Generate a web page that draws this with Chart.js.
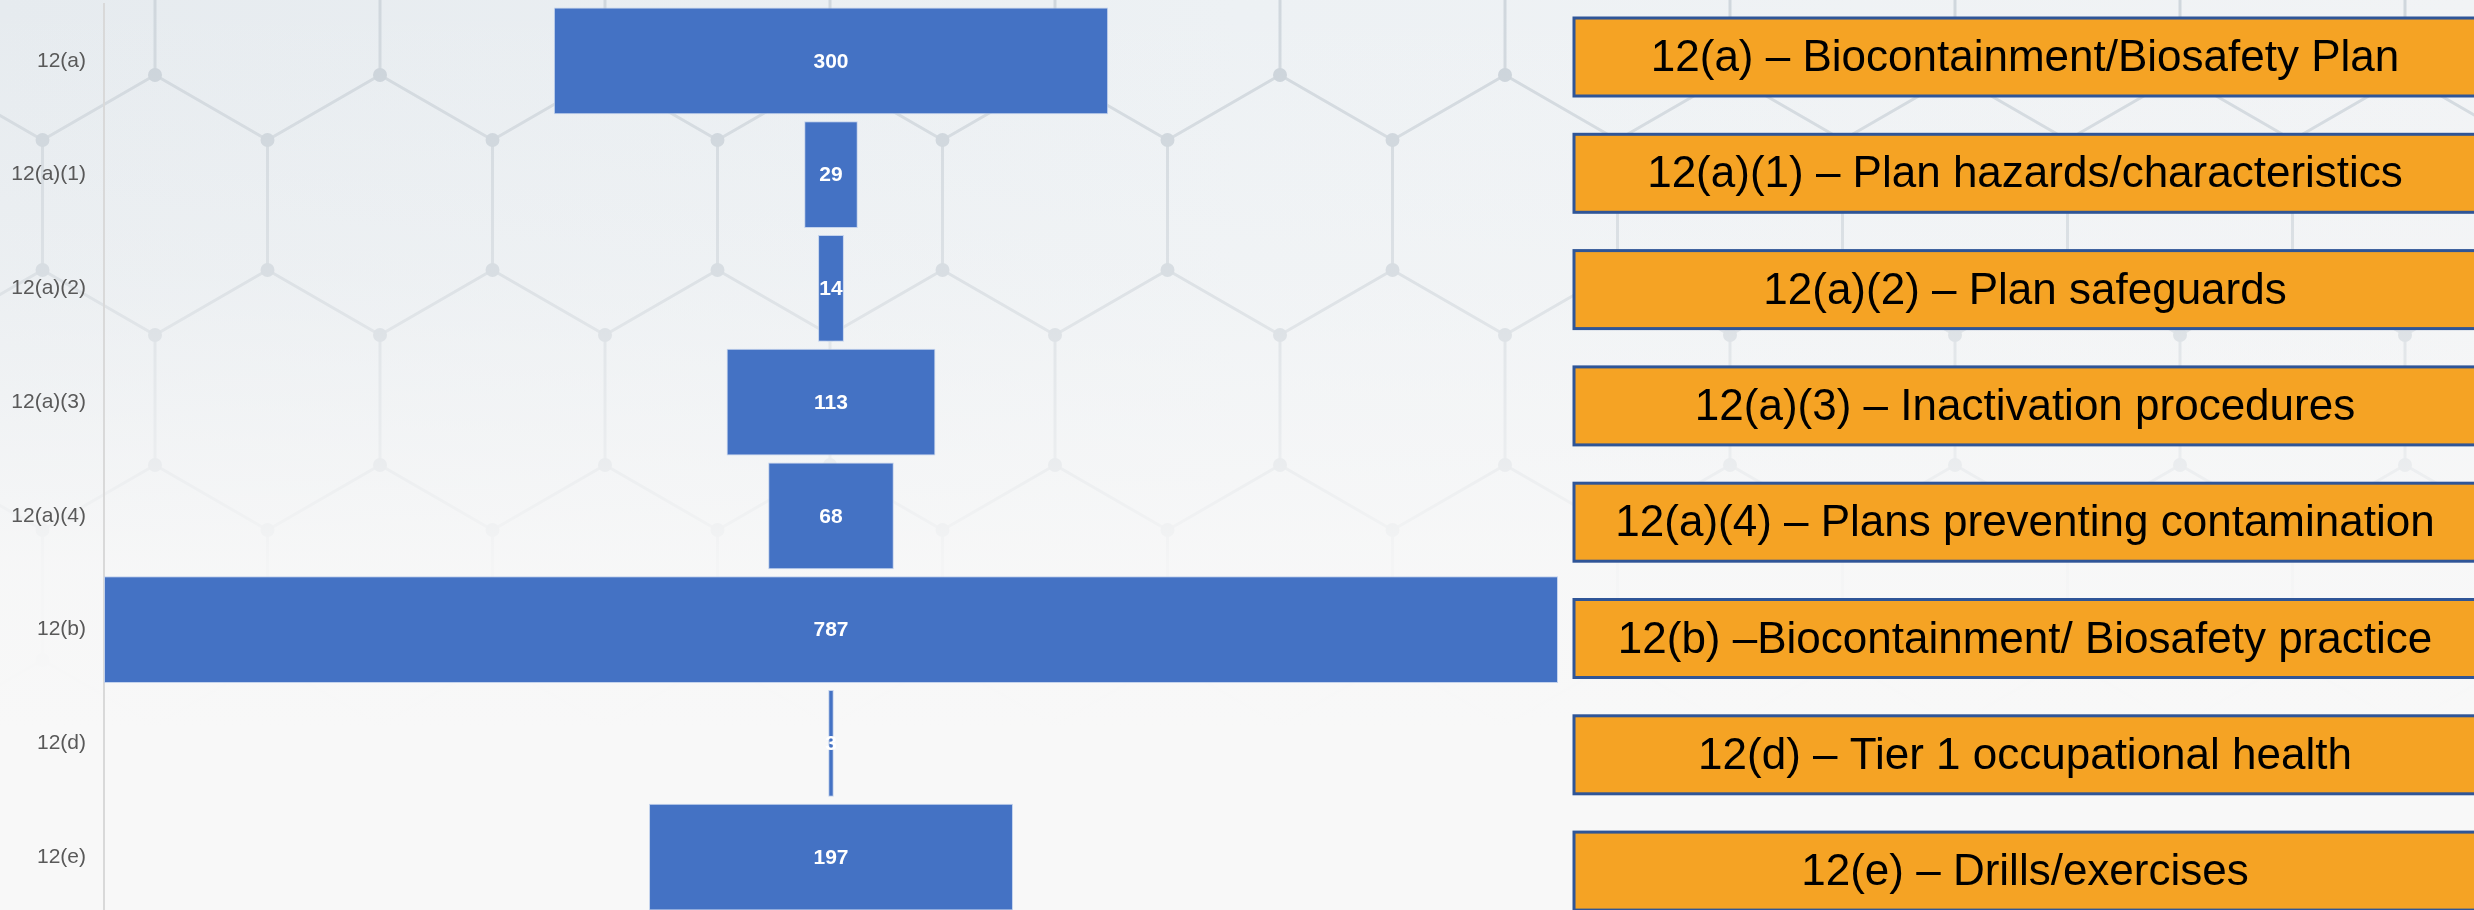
<!DOCTYPE html>
<html>
<head>
<meta charset="utf-8">
<script src="https://cdn.jsdelivr.net/npm/chart.js@4/dist/chart.umd.min.js"></script>
<style>
  html, body { margin: 0; padding: 0; overflow: hidden; }
  body {
    width: 2474px; height: 910px;
    background:
      linear-gradient(180deg, rgba(248,248,248,0) 0%, rgba(248,248,248,0.3) 30%, rgba(248,248,248,0.9) 62%, #f8f8f8 80%),
      url("data:image/svg+xml;utf8,<svg xmlns='http://www.w3.org/2000/svg' width='225' height='390'><g fill='none' stroke='%23d0d7dd' stroke-width='3'><path d='M112.5 0 L225 65 L225 195 L112.5 260 L0 195 L0 65 Z M112.5 260 L112.5 390'/></g><g fill='%23cad2d9'><circle cx='112.5' cy='0' r='7'/><circle cx='225' cy='65' r='7'/><circle cx='0' cy='65' r='7'/><circle cx='225' cy='195' r='7'/><circle cx='0' cy='195' r='7'/><circle cx='112.5' cy='260' r='7'/><circle cx='112.5' cy='390' r='7'/></g></svg>") -70px -120px repeat,
      linear-gradient(90deg, #e6ebef 0%, #edf1f4 50%, #f1f3f5 100%);
  }
  #wrap { position: relative; width: 2474px; height: 914px; }
</style>
</head>
<body>
<div id="wrap"><canvas id="chartCanvas"></canvas></div>
<script>
// categories, values and the captions on the orange boxes
const categories = ['12(a)', '12(a)(1)', '12(a)(2)', '12(a)(3)', '12(a)(4)', '12(b)', '12(d)', '12(e)'];
const values = [300, 29, 14, 113, 68, 787, 3, 197];
const boxLabels = [
    '12(a) \u2013 Biocontainment/Biosafety Plan',
    '12(a)(1) \u2013 Plan hazards/characteristics',
    '12(a)(2) \u2013 Plan safeguards',
    '12(a)(3) \u2013 Inactivation procedures',
    '12(a)(4) \u2013 Plans preventing contamination',
    '12(b) \u2013Biocontainment/ Biosafety practice',
    '12(d) \u2013 Tier 1 occupational health',
    '12(e) \u2013 Drills/exercises'
];

window.onload = function() {
    const maxVal = Math.max(...values);

    // funnel: each bar centred on zero
    const funnelData = values.map(v => [-v / 2, v / 2]);

    // white value text in the middle of each bar
    const valueLabels = {
        id: 'valueLabels',
        afterDatasetsDraw(chart) {
            const ctx = chart.ctx;
            const meta = chart.getDatasetMeta(0);
            ctx.save();
            ctx.fillStyle = '#ffffff';
            ctx.font = "bold 21px 'Liberation Sans', Arial, sans-serif";
            ctx.textAlign = 'center';
            ctx.textBaseline = 'middle';
            meta.data.forEach((bar, i) => {
                const c = bar.getCenterPoint();
                ctx.fillText(String(values[i]), c.x, c.y + 1);
            });
            ctx.restore();
        }
    };

    // orange caption boxes on the right
    const sideBoxes = {
        id: 'sideBoxes',
        afterDraw(chart) {
            const ctx = chart.ctx;
            const left = 1574, right = 2476, top = 18, step = 116.3, h = 78;
            ctx.save();
            boxLabels.forEach((label, i) => {
                const y = top + i * step;
                ctx.fillStyle = '#f5a324';
                ctx.fillRect(left, y, right - left, h);
                ctx.strokeStyle = '#2f5597';
                ctx.lineWidth = 3;
                ctx.strokeRect(left, y, right - left, h);
                ctx.fillStyle = '#000000';
                ctx.font = "44px 'Liberation Sans', Arial, sans-serif";
                ctx.textAlign = 'center';
                ctx.textBaseline = 'middle';
                ctx.fillText(label, (left + right) / 2, y + h / 2 + 2);
            });
            ctx.restore();
        }
    };

    const ctx = document.getElementById('chartCanvas').getContext('2d');
    new Chart(ctx, {
        type: 'bar',
        data: {
            labels: categories,
            datasets: [{
                data: funnelData,
                backgroundColor: '#4472c4',
                borderColor: 'rgba(190, 206, 235, 0.9)',
                borderWidth: 1,
                borderSkipped: false,
                barPercentage: 0.94,
                categoryPercentage: 1.0
            }]
        },
        options: {
            indexAxis: 'y',
            responsive: true,
            maintainAspectRatio: false,
            animation: false,
            layout: {
                padding: { top: 4, right: 916, bottom: 0, left: 0 }
            },
            scales: {
                x: {
                    display: false,
                    min: -maxVal / 2,
                    max: maxVal / 2
                },
                y: {
                    grid: { display: false, drawTicks: false },
                    border: { display: true, color: '#d9d9d9', width: 2 },
                    ticks: {
                        color: '#595959',
                        padding: 18,
                        font: { family: "'Liberation Sans', Arial, sans-serif", size: 21 }
                    },
                    afterFit(scale) {
                        scale.width = 104;
                        // labels sit at category centres, no extra room needed
                        scale.paddingTop = 0;
                        scale.paddingBottom = 0;
                    }
                }
            },
            plugins: {
                legend: { display: false },
                tooltip: { enabled: false }
            }
        },
        plugins: [valueLabels, sideBoxes]
    });
};
</script>
</body>
</html>
